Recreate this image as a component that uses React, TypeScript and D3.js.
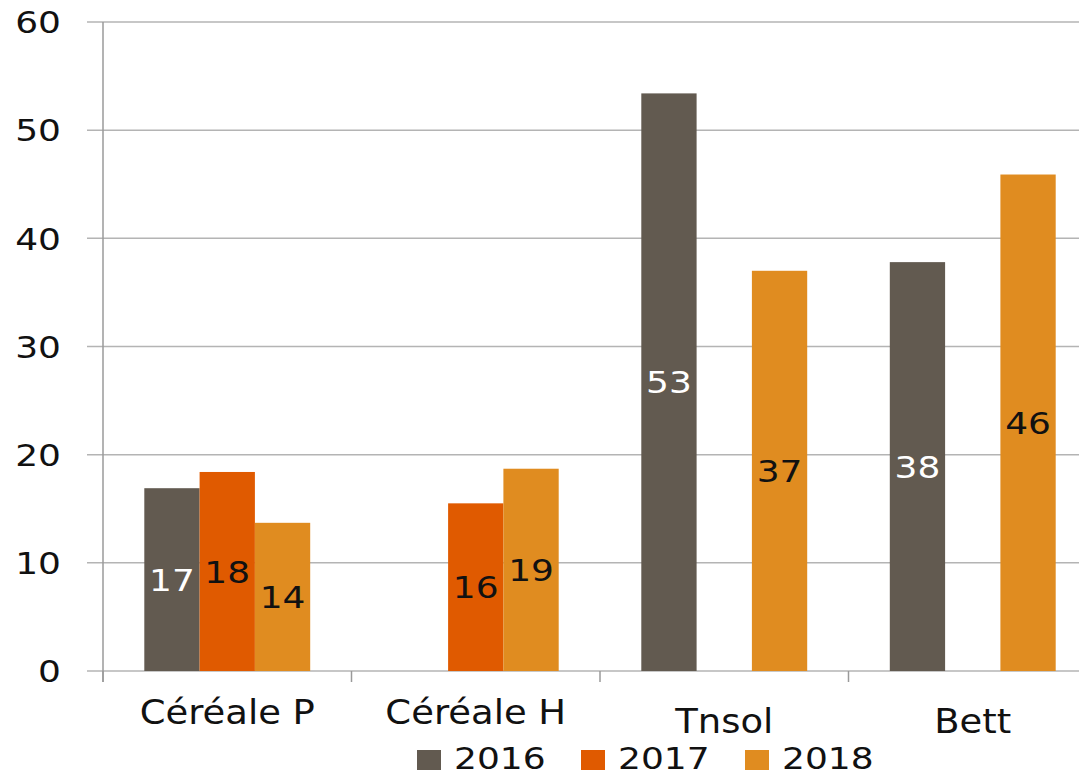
// @ts-nocheck
import React from 'react'
import * as d3 from 'd3'

const categories = ['Céréale P', 'Céréale H', 'Tnsol', 'Bett']
const years = ['2016', '2017', '2018']
const values2016 = [16.9, null, 53.4, 37.8]
const values2017 = [18.4, 15.5, null, null]
const values2018 = [13.7, 18.7, 37.0, 45.9]
const yTicks = [0, 10, 20, 30, 40, 50, 60]
const colors = ['#625a50', '#e05a00', '#e08c20']
const labelColors = ['#ffffff', '#111111', '#111111']

const W = 1079
const H = 774
const font = 'DejaVu Sans, Verdana, sans-serif'

// text drawn a bit wider than the font, like the stretched original
const T = ({ x, y, anchor = 'middle', size = 31, fill = '#111', dy = null, stretch = 1.16, children }) => (
  <text
    transform={`translate(${x},${y}) scale(${stretch},1)`}
    dy={dy}
    textAnchor={anchor}
    fontFamily={font}
    fontSize={size}
    fill={fill}
  >
    {children}
  </text>
)

const App = () => {
  const series = [values2016, values2017, values2018]

  const x = d3.scaleBand().domain(categories).range([103, 1097]).padding(0)
  const inner = d3
    .scaleBand()
    .domain(years)
    .range([0, x.bandwidth()])
    .paddingInner(0)
    .paddingOuter(0.747)
  const y = d3.scaleLinear().domain([0, 60]).range([671, 22])

  const labelY = (c) => (c.startsWith('Céréale') ? 724 : 733)

  return (
    <svg width={W} height={H} style={{ position: 'absolute', left: 0, top: 0, background: '#fff' }}>
      {yTicks.map((t) => (
        <g key={t}>
          <line x1={87} x2={W} y1={y(t)} y2={y(t)} stroke="#b4b4b4" strokeWidth={1.5} />
          <T x={61} y={y(t)} dy="0.36em" anchor="end" size={31}>
            {t}
          </T>
        </g>
      ))}
      <line x1={103} x2={103} y1={22} y2={682} stroke="#9a9a9a" strokeWidth={1.5} />
      {categories.map((c) => (
        <line key={c} x1={x(c)} x2={x(c)} y1={671} y2={682} stroke="#9a9a9a" strokeWidth={1.5} />
      ))}
      {categories.map((c, ci) => (
        <g key={c} transform={`translate(${x(c)},0)`}>
          {series.map((s, si) => {
            const v = s[ci]
            if (v == null) return null
            return (
              <g key={si}>
                <rect
                  x={inner(years[si])}
                  y={y(v)}
                  width={inner.bandwidth()}
                  height={y(0) - y(v)}
                  fill={colors[si]}
                />
                <T
                  x={inner(years[si]) + inner.bandwidth() / 2}
                  y={(y(v) + y(0)) / 2}
                  dy="0.36em"
                  size={31}
                  fill={labelColors[si]}
                >
                  {Math.round(v)}
                </T>
              </g>
            )
          })}
        </g>
      ))}
      {categories.map((c) => (
        <T key={c} x={x(c) + x.bandwidth() / 2} y={labelY(c)} size={33} stretch={1.12}>
          {c}
        </T>
      ))}
      {years.map((yr, i) => (
        <g key={yr} transform={`translate(${417 + i * 164},0)`}>
          <rect x={0} y={750} width={24} height={20} fill={colors[i]} />
          <T x={37} y={769} anchor="start" size={30} stretch={1.2}>
            {yr}
          </T>
        </g>
      ))}
    </svg>
  )
}

export default App
